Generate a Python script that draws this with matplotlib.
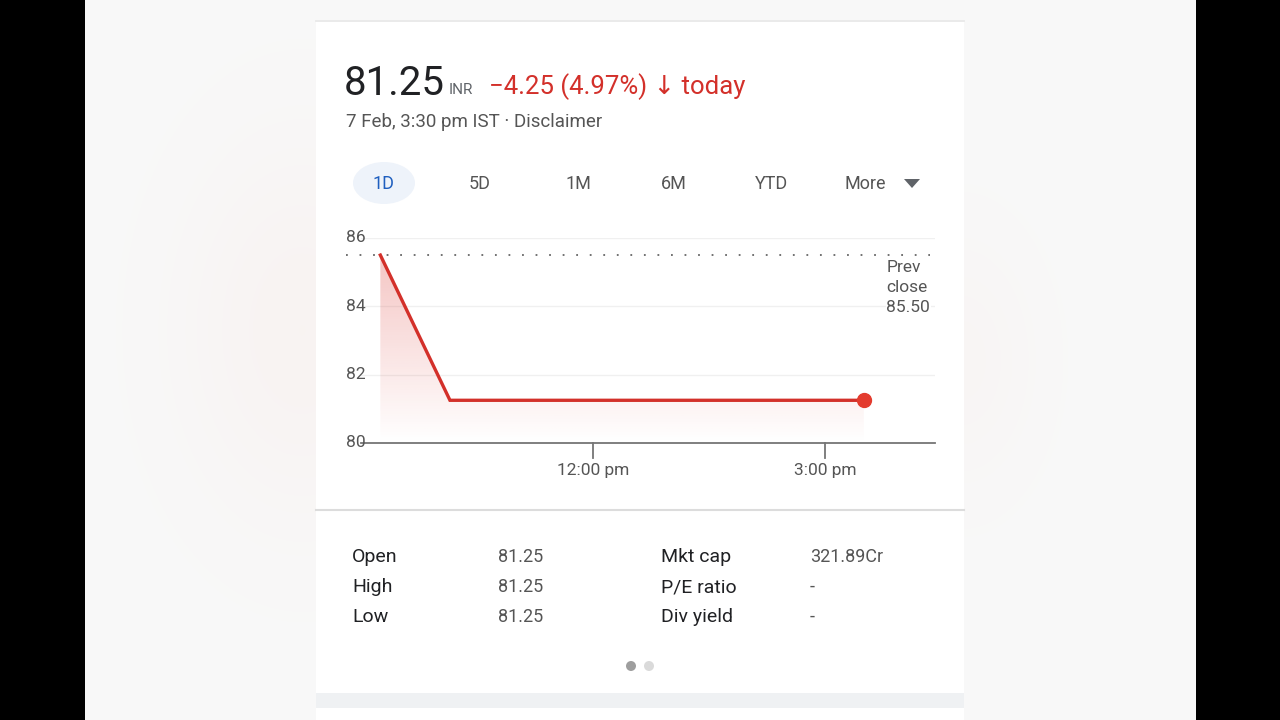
import matplotlib.pyplot as plt
import numpy as np
from matplotlib.patches import Rectangle, Polygon, Ellipse

# ---- data ----
times = [9.25, 10.15, 15.5]          # hours of day
prices = [85.5, 81.25, 81.25]
prev_close = 85.5
price = "81.25"
change = "\u22124.25 (4.97%) \u2193 today"
stamp = "7 Feb, 3:30 pm IST \u00b7 Disclaimer"
tabs = ["1D", "5D", "1M", "6M", "YTD", "More"]
yticks = [80, 82, 84, 86]
xticks = [12, 15]
xticklabels = ["12:00 pm", "3:00 pm"]
stat_left = [("Open", "81.25"), ("High", "81.25"), ("Low", "81.25")]
stat_right = [("Mkt cap", "321.89Cr"), ("P/E ratio", "-"), ("Div yield", "-")]

RED = "#d3302a"
FONT = ["Roboto", "DejaVu Sans"]
plt.rcParams['font.family'] = FONT

fig = plt.figure(figsize=(12.8, 7.2), dpi=100)
fig.patch.set_facecolor("black")

# background in pixel coords
bg = fig.add_axes([0, 0, 1, 1])
bg.axis("off")

# soft side panels with a faint pink glow
yy, xx = np.mgrid[0:720, 0:1280]
glow = np.exp(-(((xx - 250) / 140.0) ** 2 + ((yy - 330) / 190.0) ** 2))
glow += 0.6 * np.exp(-(((xx - 1010) / 90.0) ** 2 + ((yy - 360) / 130.0) ** 2))
img = np.ones((720, 1280, 3)) * 0.975
img[..., 1] -= 0.022 * glow
img[..., 2] -= 0.026 * glow
bg.imshow(img, extent=[85, 1196, 720, 0], aspect="auto", zorder=0)
bg.set_xlim(0, 1280)
bg.set_ylim(720, 0)

# card
bg.add_patch(Rectangle((316, 20), 648, 700, facecolor="white", edgecolor="none", zorder=1))
bg.plot([316, 964], [20.5, 20.5], color="#e6e6e6", lw=1.2, zorder=2)
bg.plot([316, 964], [510, 510], color="#dcdcdc", lw=1.5, zorder=2)
bg.add_patch(Rectangle((316, 693), 648, 15, facecolor="#eff1f3", edgecolor="none", zorder=2))

# header
bg.text(344, 95, price, fontsize=29, color="#202124", va="baseline", zorder=3)
bg.text(449, 94, "INR", fontsize=11, color="#5f6368", va="baseline", zorder=3)
bg.text(489, 94, change, fontsize=18.5, color=RED, va="baseline", zorder=3)
bg.text(346, 127, stamp, fontsize=13.5, color="#555555", va="baseline", zorder=3)

# tabs
tab_x = [384, 480, 578, 674, 772, 865]
bg.add_patch(Ellipse((384, 183), 62, 42, facecolor="#eef3fa", edgecolor="none", zorder=2))
for x, t in zip(tab_x, tabs):
    col = "#1f5fbf" if t == "1D" else "#555555"
    bg.text(x, 184, t, fontsize=13, color=col, ha="center", va="center", zorder=3)
bg.add_patch(Polygon([[904, 179], [920, 179], [912, 188]], closed=True,
                     facecolor="#5f6368", edgecolor="none", zorder=3))

# chart
L, R, B, T = 361, 935, 443, 238
ax = fig.add_axes([L / 1280, 1 - B / 720, (R - L) / 1280, (B - T) / 720])
ax.set_xlim(9.0, 16.42)
ax.set_ylim(80, 86)
ax.patch.set_alpha(0)
for s in ax.spines.values():
    s.set_visible(False)
ax.set_xticks([])
ax.set_yticks([])

for y in yticks[1:]:
    ax.axhline(y, color="#f0f0f0", lw=1, zorder=1)
ax.axhline(80, color="#757575", lw=1.3, zorder=3, clip_on=False)
ax.plot([8.8, 16.35], [prev_close, prev_close], color="#666666", lw=1.3,
        linestyle=(0, (1, 6.5)), zorder=2, clip_on=False)

# gradient fill under the line
poly_x = list(times) + [times[-1], times[0]]
poly_y = list(prices) + [80, 80]
clip = Polygon(np.column_stack([poly_x, poly_y]), closed=True, transform=ax.transData,
               facecolor="none", edgecolor="none")
ax.add_patch(clip)
grad = np.zeros((256, 2, 4))
grad[..., 0] = 0.86
grad[..., 1] = 0.2
grad[..., 2] = 0.18
grad[..., 3] = np.linspace(0.28, 0.0, 256)[:, None]
gi = ax.imshow(grad, extent=[times[0], times[-1], 80, max(prices)], aspect="auto",
               origin="upper", zorder=1)
gi.set_clip_path(clip)
ax.set_xlim(9.0, 16.42)
ax.set_ylim(80, 86)

ax.plot(times, prices, color=RED, lw=2.4, zorder=4, solid_joinstyle="miter")
ax.plot(times[-1], prices[-1], "o", color="#e33b2e", ms=10, zorder=5)

for y in yticks:
    ax.text(-0.027, y, str(y), transform=ax.get_yaxis_transform(), fontsize=12.5,
            color="#555555", ha="left", va="center", clip_on=False)
for x, lab in zip(xticks, xticklabels):
    ax.plot([x, x], [80, 79.55], color="#757575", lw=1.3, clip_on=False, zorder=3)
    ax.text(x, 79.2, lab, fontsize=12.5, color="#555555", ha="center", va="center",
            clip_on=False)
ax.text(15.79, 84.55, "Prev\nclose\n%.2f" % prev_close, fontsize=12.5, color="#555555",
        ha="left", va="center", linespacing=1.4, clip_on=False, zorder=6,
        bbox=dict(facecolor="white", edgecolor="none", pad=0.5))

# stats table
row_y = [557, 587, 617]
for y, (k, v) in zip(row_y, stat_left):
    bg.text(352, y, k, fontsize=14, color="#202124", va="center", zorder=3)
    bg.text(498, y, v, fontsize=13, color="#555555", va="center", zorder=3)
for y, (k, v) in zip(row_y, stat_right):
    bg.text(661, y, k, fontsize=14, color="#202124", va="center", zorder=3)
    bg.text(810, y, v, fontsize=13, color="#555555", va="center", zorder=3)

bg.add_patch(Ellipse((631, 666), 10, 10, facecolor="#9e9e9e", edgecolor="none", zorder=3))
bg.add_patch(Ellipse((649, 666), 10, 10, facecolor="#dadada", edgecolor="none", zorder=3))

fig.savefig("out.png", dpi=100, facecolor=fig.get_facecolor())
